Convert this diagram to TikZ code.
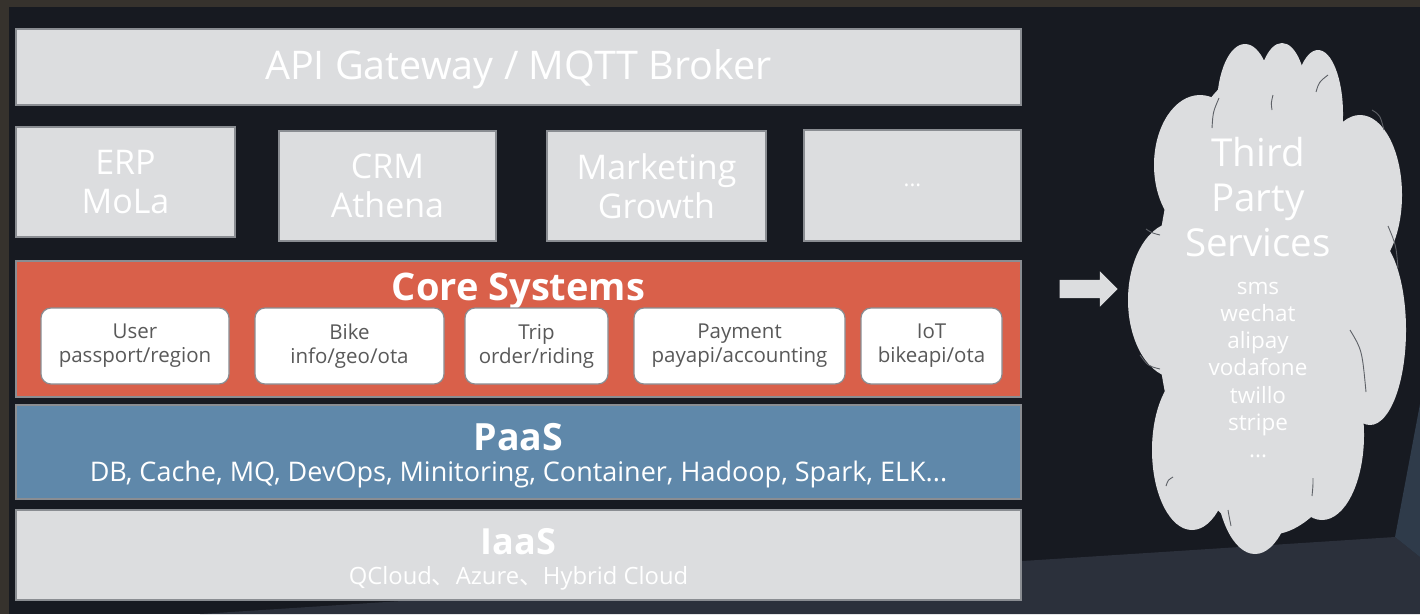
\documentclass[tikz,border=0pt]{standalone}
\usepackage{fontspec}
\setmainfont{Open Sans}
\newfontfamily\cjk{Noto Sans CJK SC}
\usetikzlibrary{shapes.arrows}
\definecolor{framec}{HTML}{36322D}
\definecolor{wallc}{HTML}{171A21}
\definecolor{floorc}{HTML}{2B303B}
\definecolor{sidec}{HTML}{2F3B4A}
\definecolor{boxc}{HTML}{DCDDDF}
\definecolor{boxline}{HTML}{8A8D92}
\definecolor{corec}{HTML}{D9604A}
\definecolor{paasc}{HTML}{5F88AA}
\definecolor{innertext}{HTML}{595959}
\definecolor{cloudline}{HTML}{5E6167}
\tikzset{
  graybox/.style={fill=boxc, draw=boxline, line width=1.2pt, inner sep=0pt, text=white, align=center},
  layerbox/.style={draw=boxline, line width=1.2pt, inner sep=0pt, text=white, align=center},
  corebox/.style={fill=white, draw=boxline, line width=1.2pt, rounded corners=10pt, inner sep=0pt,
    text=innertext, align=center, font=\fontsize{20.5}{24}\selectfont, minimum height=76pt},
  puff/.style={fill=boxc},
  cline/.style={draw=cloudline, line width=0.9pt},
  ctext/.style={text=white, align=center, inner sep=0pt}
}
\begin{document}
\begin{tikzpicture}[x=1pt, y=-1pt]
\useasboundingbox (0,0) rectangle (1420,614);
% room background
\fill[framec] (0,0) rectangle (1420,614);
\fill[wallc] (9,7) rectangle (1420,614);
\fill[floorc] (200,614) -- (1395,537) -- (1420,557) -- (1420,614) -- cycle;
\fill[sidec] (1395,537) -- (1420,404) -- (1420,557) -- cycle;

% API gateway
\node[graybox, minimum width=1005pt, minimum height=76pt] (api) at (518.5,67) {};
\node[ctext, font=\fontsize{39.5}{44}\selectfont] (apit) at (518.5,69) {API Gateway / MQTT Broker};

% business systems
\node[graybox, minimum width=219pt, minimum height=110pt, font=\fontsize{34}{39}\selectfont]
  (erp) at (125.5,182) {ERP\\MoLa};
\node[graybox, minimum width=217pt, minimum height=110pt, font=\fontsize{34}{39}\selectfont]
  (crm) at (387.5,186) {CRM\\Athena};
\node[graybox, minimum width=219pt, minimum height=110pt, font=\fontsize{34}{39}\selectfont]
  (mkt) at (656.5,186) {Marketing\\Growth};
\node[graybox, minimum width=217pt, minimum height=111pt, font=\fontsize{22}{26}\selectfont]
  (more) at (912.5,185.5) {...};

% core systems
\node[layerbox, fill=corec, minimum width=1005pt, minimum height=136pt] (core) at (518.5,329) {};
\node[ctext, font=\fontsize{38}{44}\selectfont\bfseries] (coret) at (518.5,291) {Core Systems};
\node[corebox, minimum width=188pt] (user) at (135,346) {User\\passport/region};
\node[corebox, minimum width=189pt] (bike) at (349.5,346) {Bike\\info/geo/ota};
\node[corebox, minimum width=143pt] (trip) at (536.5,346) {Trip\\order/riding};
\node[corebox, minimum width=211pt] (pay) at (739.5,346) {Payment\\payapi/accounting};
\node[corebox, minimum width=141pt] (iot) at (931.5,346) {IoT\\bikeapi/ota};

% PaaS
\node[layerbox, fill=paasc, minimum width=1005pt, minimum height=94pt] (paas) at (518.5,452) {};
\node[ctext, font=\fontsize{37.5}{42}\selectfont\bfseries] (paast) at (518.5,437) {PaaS};
\node[ctext, font=\fontsize{27}{32}\selectfont] (paass) at (518.5,474)
  {DB, Cache, MQ, DevOps, Minitoring, Container, Hadoop, Spark, ELK...};

% IaaS
\node[graybox, minimum width=1005pt, minimum height=90pt] (iaas) at (518.5,555) {};
\node[ctext, font=\fontsize{36}{40}\selectfont\bfseries] (iaast) at (518.5,542) {IaaS};
\node[ctext, font=\fontsize{23.8}{28}\selectfont] (iaass) at (518.5,578)
  {QCloud{\cjk 、}Azure{\cjk 、}Hybrid Cloud};

% block arrow
\node[single arrow, fill=boxc, inner sep=0pt, minimum height=58pt, minimum width=35pt,
  single arrow head extend=8.5pt] (arr) at (1084,289) {\rule{0pt}{18pt}};

% cloud
\fill[puff] (1245,106) ellipse [x radius=28, y radius=62];
\fill[puff] (1282,101) ellipse [x radius=25, y radius=58];
\fill[puff] (1318,114) ellipse [x radius=25, y radius=64];
\fill[puff] (1200,165) ellipse [x radius=46, y radius=70];
\fill[puff] (1360,195) ellipse [x radius=42, y radius=80];
\fill[puff] (1176,300) ellipse [x radius=48, y radius=78];
\fill[puff] (1370,330) ellipse [x radius=36, y radius=95];
\fill[puff] (1192,450) ellipse [x radius=40, y radius=80];
\fill[puff] (1255,468) ellipse [x radius=40, y radius=86];
\fill[puff] (1322,435) ellipse [x radius=42, y radius=85];
\fill[puff] (1268,300) ellipse [x radius=112, y radius=235];
% cloud inner lines
\draw[cline] (1212,128) .. controls (1213,112) .. (1219,98);
\draw[cline] (1272,110) .. controls (1271,103) .. (1273,95);
\draw[cline] (1316,92) .. controls (1319,82) .. (1328,75);
\draw[cline] (1372,110) .. controls (1380,115) .. (1384,130);
\draw[cline] (1146,229) .. controls (1152,233) .. (1160,235);
\draw[cline] (1140,355) .. controls (1148,366) .. (1160,369);
\draw[cline] (1388,226) .. controls (1396,245) .. (1398,268);
\draw[cline] (1350,330) .. controls (1362,350) .. (1366,392);
\draw[cline] (1166,486) .. controls (1168,480) .. (1173,477);
\draw[cline] (1228,510) .. controls (1229,516) .. (1231,526);
\draw[cline] (1313,478) .. controls (1313,486) .. (1312,496);

\node[ctext, font=\fontsize{38.5}{45}\selectfont] (tps) at (1258,197) {Third\\Party\\Services};
\node[ctext, font=\fontsize{22.5}{27.2}\selectfont] (svc) at (1258,370)
  {sms\\wechat\\alipay\\vodafone\\twillo\\stripe\\...};
\end{tikzpicture}
\end{document}
